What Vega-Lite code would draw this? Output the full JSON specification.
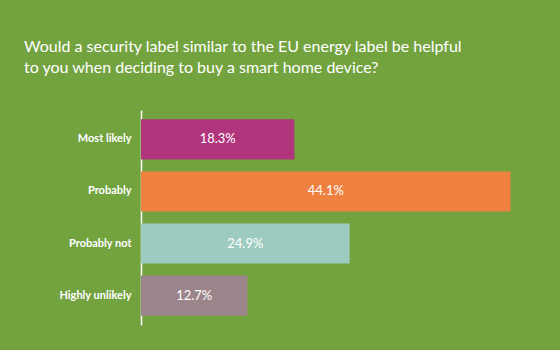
{
  "$schema": "https://vega.github.io/schema/vega-lite/v6.json",
  "autosize": {"type": "none"},
  "width": 419,
  "height": 215,
  "padding": {"left": 141, "top": 110, "right": 0, "bottom": 25},
  "background": "#73a33f",
  "title": {
    "text": ["Would a security label similar to the EU energy label be helpful", "to you when deciding to buy a smart home device?"],
    "anchor": "start",
    "frame": "group",
    "orient": "top",
    "dx": -117,
    "offset": 34,
    "font": "Lato",
    "fontSize": 16,
    "fontWeight": "normal",
    "lineHeight": 21,
    "color": "#ffffff"
  },
  "data": {
    "values": [
      {"answer": "Most likely", "pct": 18.3},
      {"answer": "Probably", "pct": 44.1},
      {"answer": "Probably not", "pct": 24.9},
      {"answer": "Highly unlikely", "pct": 12.7}
    ]
  },
  "encoding": {
    "y": {
      "field": "answer",
      "type": "nominal",
      "sort": null,
      "title": null,
      "scale": {"paddingInner": 0.23, "paddingOuter": 0.18},
      "axis": {
        "domainColor": "#ffffff",
        "domainWidth": 1.5,
        "ticks": false,
        "labelColor": "#ffffff",
        "labelFont": "Lato",
        "labelFontWeight": "bold",
        "labelFontSize": 11,
        "labelPadding": 10
      }
    }
  },
  "layer": [
    {
      "mark": {"type": "bar"},
      "encoding": {
        "x": {"field": "pct", "type": "quantitative", "scale": {"domain": [0, 50]}, "axis": null},
        "color": {
          "field": "answer",
          "type": "nominal",
          "sort": null,
          "legend": null,
          "scale": {
            "domain": ["Most likely", "Probably", "Probably not", "Highly unlikely"],
            "range": ["#b1357d", "#ee8140", "#9ecbc0", "#9b858a"]
          }
        }
      }
    },
    {
      "transform": [
        {"calculate": "datum.pct / 2", "as": "mid"},
        {"calculate": "format(datum.pct, '.1f') + '%'", "as": "label"}
      ],
      "mark": {"type": "text", "font": "Lato", "fontSize": 13, "color": "#ffffff"},
      "encoding": {
        "x": {"field": "mid", "type": "quantitative", "scale": {"domain": [0, 50]}},
        "text": {"field": "label", "type": "nominal"}
      }
    }
  ],
  "config": {"view": {"stroke": null}}
}
